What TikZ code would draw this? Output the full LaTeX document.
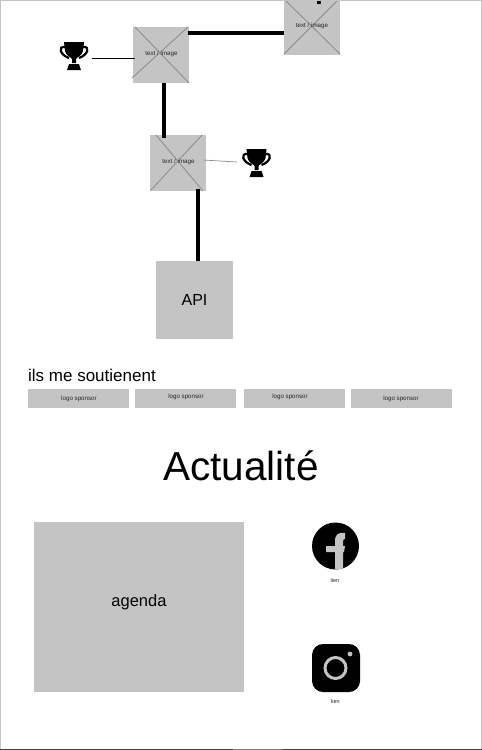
\documentclass[tikz,border=0pt]{standalone}
\usepackage{fontspec}
\setmainfont{Liberation Sans}
\definecolor{boxgray}{HTML}{C4C4C4}
\definecolor{crossgray}{HTML}{8A8A8A}
\tikzset{
  x=1pt,y=-1pt,
  boxshape/.style={fill=boxgray,draw=none,inner sep=0pt,outer sep=0pt,minimum width=#1,anchor=north west},
  imgbox/.style={boxshape=56pt,minimum height=56pt},
  sponsorbox/.style={boxshape=101pt,minimum height=19pt},
  crossline/.style={draw=crossgray,line width=0.8pt},
  thickline/.style={line width=4pt,draw=black},
  tiny/.style={font=\fontsize{6.2}{7}\selectfont,text=black!85,inner sep=0pt},
  trophy/.pic={
    \fill[black] (-10,-15) -- (10,-15) -- (9,-6) .. controls (8,-1) and (3,0) .. (2,2) -- (2,6) -- (-2,6) -- (-2,2) .. controls (-3,0) and (-8,-1) .. (-9,-6) -- cycle;
    \fill[black] (-5,7) -- (5,7) -- (7,13) -- (-7,13) -- cycle;
    \draw[black,line width=2.2pt] (-9,-10) .. controls (-16.5,-11) and (-14,-2) .. (-5,1);
    \draw[black,line width=2.2pt] (9,-10) .. controls (16.5,-11) and (14,-2) .. (5,1);
  }
}
\begin{document}
\begin{tikzpicture}
\useasboundingbox (0,0) rectangle (482,750);
\fill[white] (0,0) rectangle (482,750);

% image boxes
\node[imgbox] (top) at (284,-1) {};
\node[imgbox] (one) at (133,27) {};
\node[imgbox] (two) at (150,135) {};
\coordinate (topstub) at (319,1);
\coordinate (topstubend) at (319,4);
\coordinate (onestart) at (188,33);
\coordinate (topin) at (284,33);
\coordinate (oneout) at (164,83);
\coordinate (twoin) at (164,138);
\coordinate (twoout) at (198,189);

\draw[crossline] (135,27) -- (189,83);
\draw[crossline] (188,27) -- (132,78);
\draw[crossline] (286,1) -- (340,54);
\draw[crossline] (337,1) -- (284,54);
\draw[crossline] (156,135) -- (203,191);
\draw[crossline] (202,135) -- (151,190);

\node[tiny] (toplabel) at (312,25.5) {text / image};
\node[tiny] (onelabel) at (161.5,53.5) {text / image};
\node[tiny] (twolabel) at (178.5,161.5) {text / image};

% frame
\draw[boxgray,line width=1pt] (0.5,750) -- (0.5,0.5) -- (481.5,0.5) -- (481.5,750);
\draw[black!75,line width=1pt] (0,749.5) -- (482,749.5);
\draw[black!50,line width=1pt] (233,749.5) -- (282,749.5);

% API
\node[boxshape=77pt,minimum height=78pt,font=\fontsize{16}{18}\selectfont] (api) at (156,261) {API};
\coordinate (apiin) at (198,261);

% connectors
\draw[thickline,line width=3.5pt] (topstub) -- (topstubend);
\draw[thickline] (onestart) -- (topin);
\draw[thickline] (oneout) -- (twoin);
\draw[thickline] (twoout) -- (apiin);

% trophies
\pic at (74,57) {trophy};
\pic at (256.5,164) {trophy};
\coordinate (tr1) at (92,58);
\coordinate (oneleft) at (135,58);
\coordinate (twolink) at (203,160);
\coordinate (tr2) at (237,162);
\draw[black,line width=0.8pt] (tr1) -- (oneleft);
\draw[crossgray,line width=0.7pt] (twolink) -- (tr2);

% sponsors
\node[anchor=base west,inner sep=0pt,font=\fontsize{17}{19}\selectfont] (soutien) at (28,381) {ils me soutienent};
\node[sponsorbox] (s1) at (28,389) {};
\node[sponsorbox] (s2) at (135,389) {};
\node[sponsorbox] (s3) at (244,389) {};
\node[sponsorbox] (s4) at (351,389) {};
\node[tiny] (l1) at (79,399) {logo sponsor};
\node[tiny] (l2) at (186,397) {logo sponsor};
\node[tiny] (l3) at (290,397) {logo sponsor};
\node[tiny] (l4) at (401,399) {logo sponsor};

% title
\node[inner sep=0pt,font=\fontsize{40.5}{46}\selectfont] (title) at (241,466) {Actualité};

% agenda
\node[boxshape=210pt,minimum height=170pt] (agenda) at (34,522) {};
\node[inner sep=0pt,font=\fontsize{16.5}{20}\selectfont] (agendalabel) at (139,602) {agenda};

% facebook
\fill[black] (335.5,546) circle[radius=23.5];
\begin{scope}
\clip (335.5,546) circle[radius=23.5];
\fill[boxgray] (335,570) -- (335,552) -- (326,552) -- (326,546) -- (335,546) -- (335,541)
  .. controls (335,534) and (339,532) .. (345,533) -- (345,539)
  .. controls (344,539) and (343,539) .. (343,542) -- (343,546) -- (345,546) -- (344,552) -- (343,552) -- (343,570) -- cycle;
\end{scope}
\node[tiny,font=\fontsize{5.5}{6}\selectfont] (fb) at (335,581) {lien};

% instagram
\fill[black,rounded corners=11pt] (312,644) rectangle (360,692);
\draw[boxgray,line width=3pt] (335.5,668) circle[radius=10.5];
\fill[boxgray] (350,654) circle[radius=2.4];
\node[tiny,font=\fontsize{5.5}{6}\selectfont] (ig) at (335.5,701.5) {lien};
\end{tikzpicture}
\end{document}
